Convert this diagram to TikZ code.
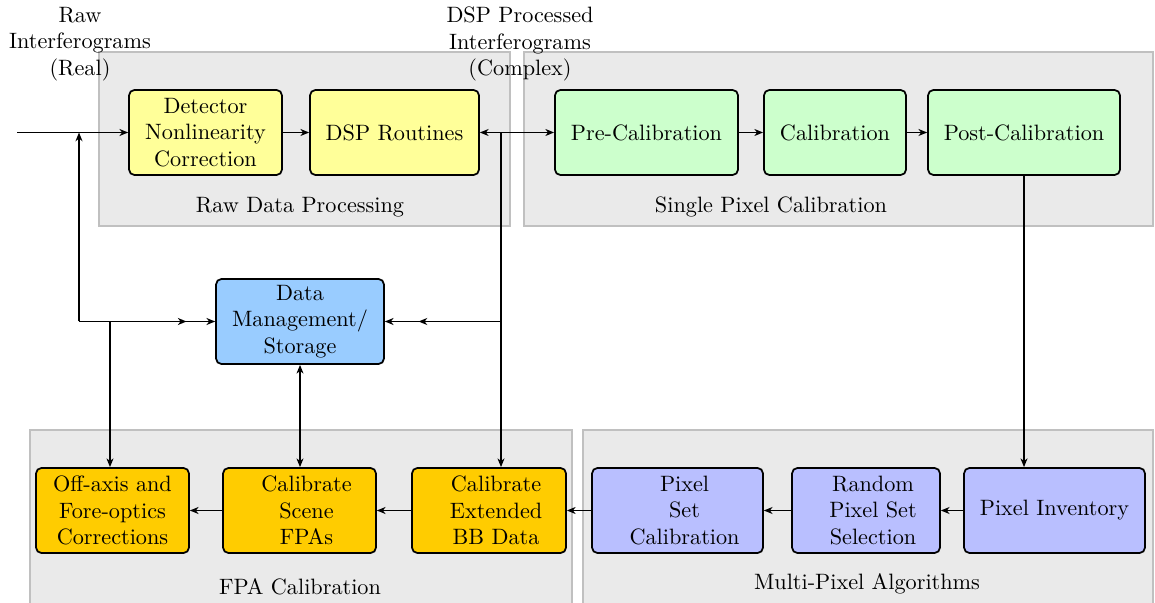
\documentclass[tikz,border=0pt]{standalone}
\usepackage{tikz}
\usetikzlibrary{arrows.meta, positioning, decorations.markings}
\definecolor{rawfill}{HTML}{FFFF99}
\definecolor{spcfill}{HTML}{CCFFCC}
\definecolor{dmfill}{HTML}{99CCFF}
\definecolor{fpafill}{HTML}{FFCC00}
\definecolor{mpafill}{HTML}{B9BFFF}
\definecolor{grpfill}{HTML}{EAEAEA}
\definecolor{grpline}{HTML}{C0C0C0}
\newcommand{\lpad}{\hspace*{6.5pt}}

\begin{document}
\begin{tikzpicture}[
        x=0.461pt, y=-0.461pt,
        every node/.style={font=\fontsize{10.25}{12.3}\selectfont},
        box/.style={rectangle, rounded corners=2.5pt, draw, thick,
            minimum height=39.2pt, align=center, inner sep=2pt},
        raw/.style={box, fill=rawfill},
        spc/.style={box, fill=spcfill},
        dm/.style={box, fill=dmfill},
        fpa/.style={box, fill=fpafill},
        mpa/.style={box, fill=mpafill},
        group/.style={fill=grpfill, draw=grpline, line width=0.8pt},
        tip/.tip={Stealth[length=4pt, width=3.2pt, inset=1.2pt]},
        arr/.style={thick, -tip},
        dbl/.style={thick, tip-tip},
        midarr/.style={postaction={decorate}, decoration={markings,
            mark=at position #1 with {\arrow{tip}}}}
    ]
    \useasboundingbox (0,0) rectangle (1155,603);
    % group backgrounds
    \draw [group] (99,52)  rectangle (510,226);
    \draw [group] (524,52) rectangle (1153,226);
    \draw [group] (30,430) rectangle (572,612);
    \draw [group] (583,430) rectangle (1153,612);
    \node (grpraw) at (300,207) {Raw Data Processing};
    \node (grpspc) at (771,207) {Single Pixel Calibration};
    \node (grpfpa) at (300,587) {FPA Calibration};
    \node (grpmpa) at (867,584) {Multi-Pixel Algorithms};
    % stream labels
    \node (rawlbl) [align=center] at (80,44) {Raw\\Interferograms\\(Real)};
    \node (dsplbl) [align=center] at (520,44) {DSP Processed\\Interferograms\\(Complex)};
    % top row
    \node (det)  [raw, minimum width=70.5pt] at (205.5,132.5) {Detector\\Nonlinearity\\Correction};
    \node (dsp)  [raw, minimum width=77.9pt] at (394.5,132.5) {DSP Routines};
    \node (pre)  [spc, minimum width=84.4pt] at (646.5,132.5) {Pre-Calibration};
    \node (cal)  [spc, minimum width=65.5pt] at (835,132.5)   {Calibration};
    \node (post) [spc, minimum width=88.5pt] at (1024,132.5)  {Post-Calibration};
    % storage
    \node (dms)  [dm, minimum width=77.4pt]  at (300,321.5)   {Data\\Management/\\Storage};
    % bottom row
    \node (off)   [fpa, minimum width=70.5pt] at (112.5,510.5) {Off-axis and\\Fore-optics\\Corrections};
    \node (scene) [fpa, minimum width=70.5pt] at (299.5,510.5) {\lpad Calibrate\\\lpad Scene\\\lpad FPAs};
    \node (ebb)   [fpa, minimum width=71pt]   at (489,510.5)   {\lpad Calibrate\\\lpad Extended\\\lpad BB Data};
    \node (pset)  [mpa, minimum width=78.8pt] at (677.5,510.5) {\lpad Pixel\\\lpad Set\\\lpad Calibration};
    \node (rnd)   [mpa, minimum width=68.2pt] at (866,510.5)   {\lpad Random\\\lpad Pixel Set\\\lpad Selection};
    \node (inv)   [mpa, minimum width=83.4pt] at (1054.5,510.5){Pixel Inventory};
    % junctions
    \coordinate (in) at (17,132.5);
    \coordinate (jl) at (79,321.5);
    \coordinate (jo) at (110,321.5);
    \coordinate (jr) at (501,321.5);
    % connectors
    \draw [arr] (in)   -- (det);
    \draw [arr] (det)  -- (dsp);
    \draw [dbl] (dsp)  -- (pre);
    \draw [arr] (pre)  -- (cal);
    \draw [arr] (cal)  -- (post);
    \draw [arr] (post.south) -- (post.south |- inv.north);
    \draw [arr] (inv)  -- (rnd);
    \draw [arr] (rnd)  -- (pset);
    \draw [arr] (pset) -- (ebb);
    \draw [arr] (ebb)  -- (scene);
    \draw [arr] (scene) -- (off);
    \draw [dbl] (dms.south) -- (dms.south |- scene.north);
    \draw [arr] (jl) -- (jl |- det.west);
    \draw [arr, midarr=0.79] (jl) -- (dms.west);
    \draw [arr] (jo) -- (jo |- off.north);
    \draw [thick] (jr |- dsp.east) -- (jr);
    \draw [arr] (jr) -- (jr |- ebb.north);
    \draw [arr, midarr=0.71] (jr) -- (dms.east);
\end{tikzpicture}
\end{document}
